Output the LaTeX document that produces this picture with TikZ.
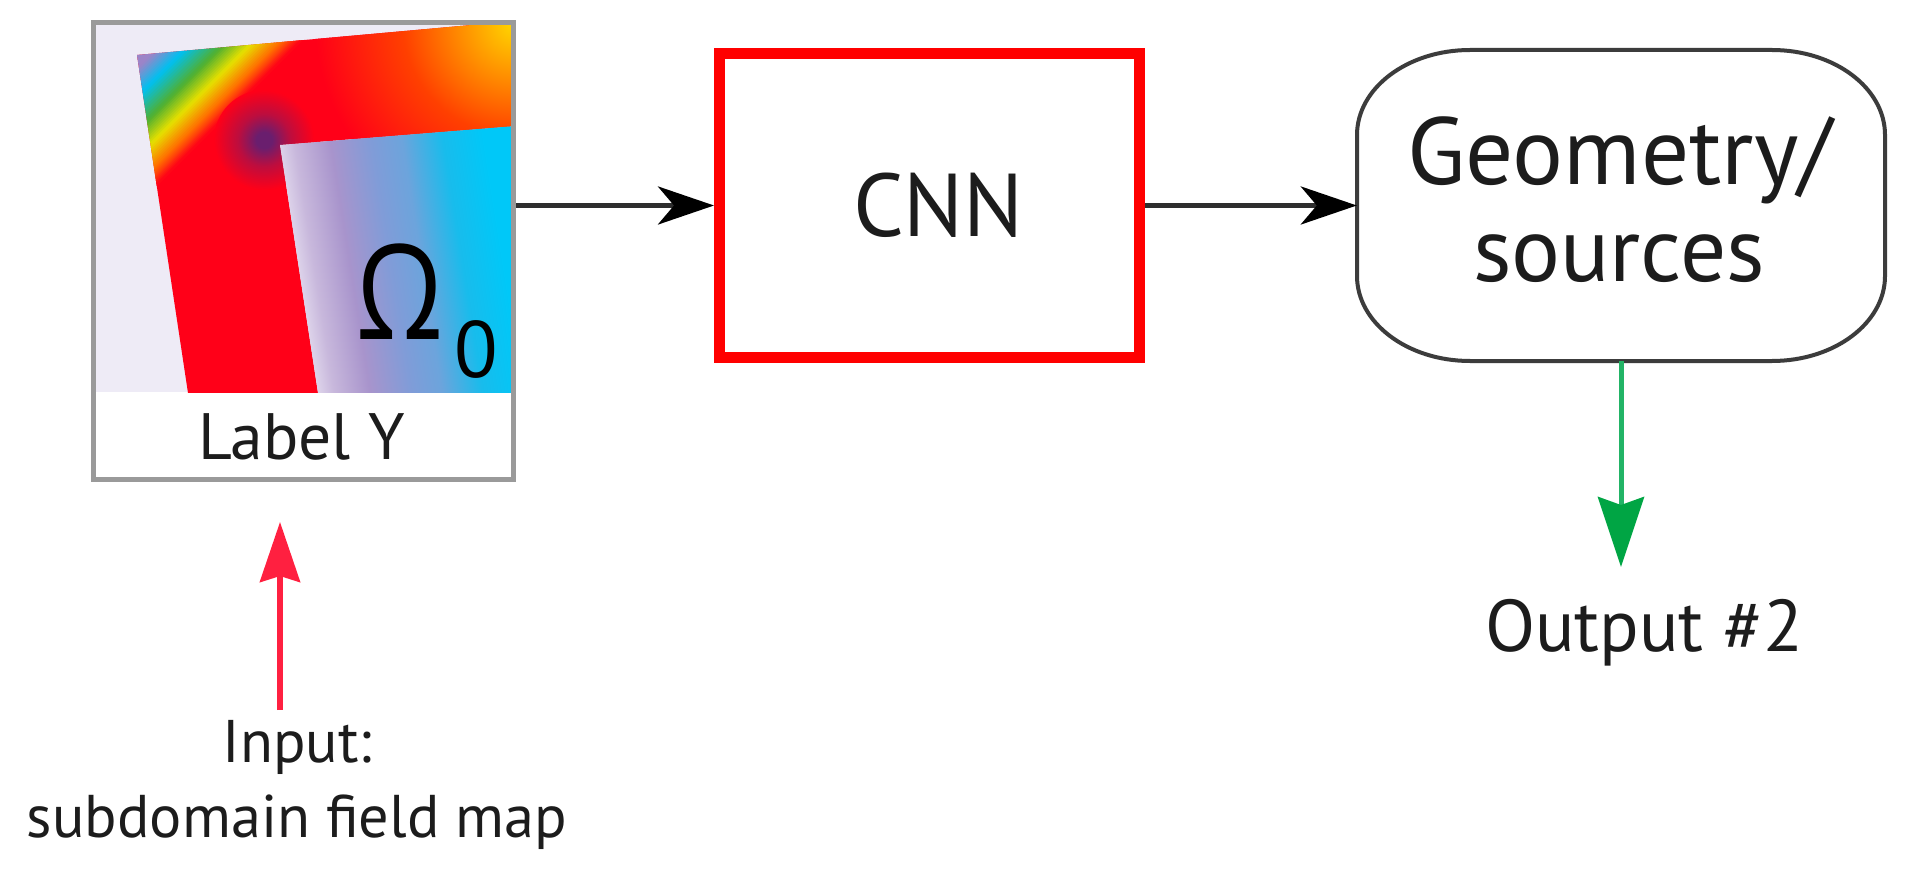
\documentclass[tikz,border=0pt]{standalone}
\usepackage{fontspec}
\setmainfont{PT Sans}
\newfontfamily\omegafont{Open Sans}
\usetikzlibrary{arrows.meta}

\definecolor{cText}{HTML}{1C1C1C}
\definecolor{cFrame}{HTML}{9A9A9A}
\definecolor{cRedBox}{HTML}{FF0000}
\definecolor{cGeom}{HTML}{3C3C3C}
\definecolor{cLine}{HTML}{2E2E2E}
\definecolor{cRedArrow}{HTML}{FF2040}
\definecolor{cGreen2}{HTML}{22B466}
\definecolor{cGreenHead}{HTML}{00A544}
\definecolor{cBg}{HTML}{EEEBF6}
\definecolor{cRed}{HTML}{FF0018}
\definecolor{cPurple}{HTML}{9C84C8}
\definecolor{cCyan}{HTML}{00C0F0}
\definecolor{cGreen}{HTML}{50B030}
\definecolor{cYellow}{HTML}{E6E000}
\definecolor{cOrange}{HTML}{FF7000}
\definecolor{cGold}{HTML}{FFD800}
\definecolor{cOrangeB}{HTML}{FF8C00}
\definecolor{cRedOr}{HTML}{FF4000}
\definecolor{cSpot}{HTML}{6A1E6E}
\definecolor{cW}{HTML}{F2EEF8}
\definecolor{cLav}{HTML}{C8B8DC}
\definecolor{cPurB}{HTML}{A894CC}
\definecolor{cBP}{HTML}{809CD8}
\definecolor{cBlue}{HTML}{6CA4DC}
\definecolor{cSky}{HTML}{18BCEC}
\definecolor{cCyanB}{HTML}{00C8F8}

\pgfdeclareradialshading{warmTR}{\pgfpoint{0bp}{0bp}}{color(0bp)=(cGold); color(7bp)=(cOrangeB); color(14bp)=(cRedOr); color(25bp)=(cRed); color(50bp)=(cRed)}
\pgfdeclareradialshading{darkspot}{\pgfpoint{0bp}{0bp}}{color(0bp)=(cSpot); color(4bp)=(cSpot); color(13bp)=(cSpot!45!cRed); color(25bp)=(cRed); color(50bp)=(cRed)}
\pgfdeclarehorizontalshading{innerfield}{100bp}{color(0bp)=(cW); color(26bp)=(cW); color(32.4bp)=(cLav); color(39.8bp)=(cPurB); color(48.3bp)=(cBP); color(54.7bp)=(cBlue); color(63.1bp)=(cSky); color(71.6bp)=(cCyanB); color(100bp)=(cCyanB)}

\newcommand{\bigtxt}{\fontsize{88}{97}\selectfont}
\newcommand{\smalltxt}{\fontsize{64}{75}\selectfont}

\tikzset{
  fieldframe/.style={draw=cFrame, line width=5pt, inner sep=0pt, minimum width=420pt, minimum height=457pt},
  cnnbox/.style={draw=cRedBox, line width=11pt, minimum width=420pt, minimum height=304pt, inner sep=0pt, text=cText, font=\bigtxt},
  geomnode/.style={minimum width=528pt, minimum height=311pt, inner sep=0pt},
  geomline/.style={draw=cGeom, line width=4pt},
  txt/.style={inner sep=0pt, text=cText, font=\smalltxt},
  bigt/.style={inner sep=0pt, text=cText, font=\bigtxt},
  blkarrow/.style={draw=cLine, line width=5pt, -{Stealth[length=56pt, width=38pt, inset=16pt, color=black]}},
  redarrow/.style={draw=cRedArrow, line width=5.5pt, -{Stealth[length=60pt, width=40pt, inset=6pt]}},
  grnarrow/.style={draw=cGreen2, line width=5pt, -{Stealth[length=70pt, width=46pt, inset=8pt, color=cGreenHead]}}
}

\begin{document}
\begin{tikzpicture}[x=1pt,y=-1pt]
\useasboundingbox (0,0) rectangle (1913,874);
\fill[white] (0,0) rectangle (1913,874);

% ---- field map picture ----
\begin{scope}
  \clip (93,22) rectangle (514,392);
  \fill[cBg] (93,22) rectangle (514,392);
  \begin{scope}
    \clip (137,55) -- (516,21) -- (516,126) -- (280,145) -- (318,393) -- (188,393) -- cycle;
    \fill[cRed] (90,0) rectangle (520,400);
    \shade[shading=warmTR] (515,23) circle[radius=200];
    % diagonal rainbow band at the top-left corner
    \foreach \dA/\dB/\cA/\cB in {-12/10/cPurple/cPurple, 10/30/cPurple/cCyan, 30/54/cCyan/cGreen, 54/73/cGreen/cYellow, 73/92/cYellow/cOrange, 92/106/cOrange/cRed} {
      \foreach \k in {0,...,9} {
        \pgfmathsetmacro{\ca}{192+1.41421*(\dA+(\dB-\dA)*\k/10)}
        \pgfmathsetmacro{\cb}{192+1.41421*(\dA+(\dB-\dA)*(\k+1)/10+0.8)}
        \pgfmathtruncatemacro{\pc}{10*\k+5}
        \fill[\cB!\pc!\cA] (\ca,0) -- (\cb,0) -- (\cb-450,450) -- (\ca-450,450) -- cycle;
      }
    }
    \shade[shading=darkspot] (264,140) circle[radius=50];
  \end{scope}
  \shade[shading=innerfield, shading angle=9] (280,145) -- (516,126) -- (516,393) -- (318,393) -- cycle;
\end{scope}
\node[anchor=base west, inner sep=0pt, font=\omegafont\fontsize{132}{132}\selectfont] (omega) at (356,339) {\scalebox{0.84}[1]{Ω}};
\node[anchor=base west, inner sep=0pt, font=\fontsize{80}{80}\selectfont] (sub0) at (454,377) {0};

\node[fieldframe] (field) at (303.5,251) {};
\node[txt, anchor=base] (lbl) at (301.5,459) {\resizebox{207pt}{!}{Label Y}};

% ---- CNN ----
\node[cnnbox] (cnn) at (929.5,205.5) {\hspace*{18pt}\resizebox{171pt}{!}{CNN}};

% ---- Geometry/sources ----
\node[geomnode] (geom) at (1621,205.5) {};
\draw[geomline] (1470,50) -- (1772,50) .. controls (1834.4,50) and (1885,88) .. (1885,135)
  -- (1885,276) .. controls (1885,323) and (1834.4,361) .. (1772,361)
  -- (1470,361) .. controls (1407.6,361) and (1357,323) .. (1357,276)
  -- (1357,135) .. controls (1357,88) and (1407.6,50) .. (1470,50) -- cycle;
\node[bigt, anchor=base] (geomA) at (1619.5,185) {\resizebox{425pt}{!}{Geometry/}};
\node[bigt, anchor=base] (geomB) at (1619,282) {\resizebox{292pt}{!}{sources}};

% ---- texts ----
\node[txt, anchor=base] (inp1) at (297.5,762) {\resizebox{149pt}{!}{Input:}};
\node[txt, anchor=base] (inp2) at (297,837) {\resizebox{540pt}{!}{subdomain field map}};
\node[txt, anchor=base] (out) at (1644,651) {\resizebox{318pt}{!}{Output \#2}};

\coordinate (redtail) at (280,710);
\coordinate (redtip) at (280,522);
\coordinate (grntip) at (1621,567);

% ---- connectors ----
\draw[blkarrow] (field.east |- cnn.west) -- (cnn.west);
\draw[blkarrow] (cnn.east) -- (geom.west);
\draw[grnarrow] (geom.south) -- (grntip);
\draw[redarrow] (redtail) -- (redtip);
\end{tikzpicture}
\end{document}
